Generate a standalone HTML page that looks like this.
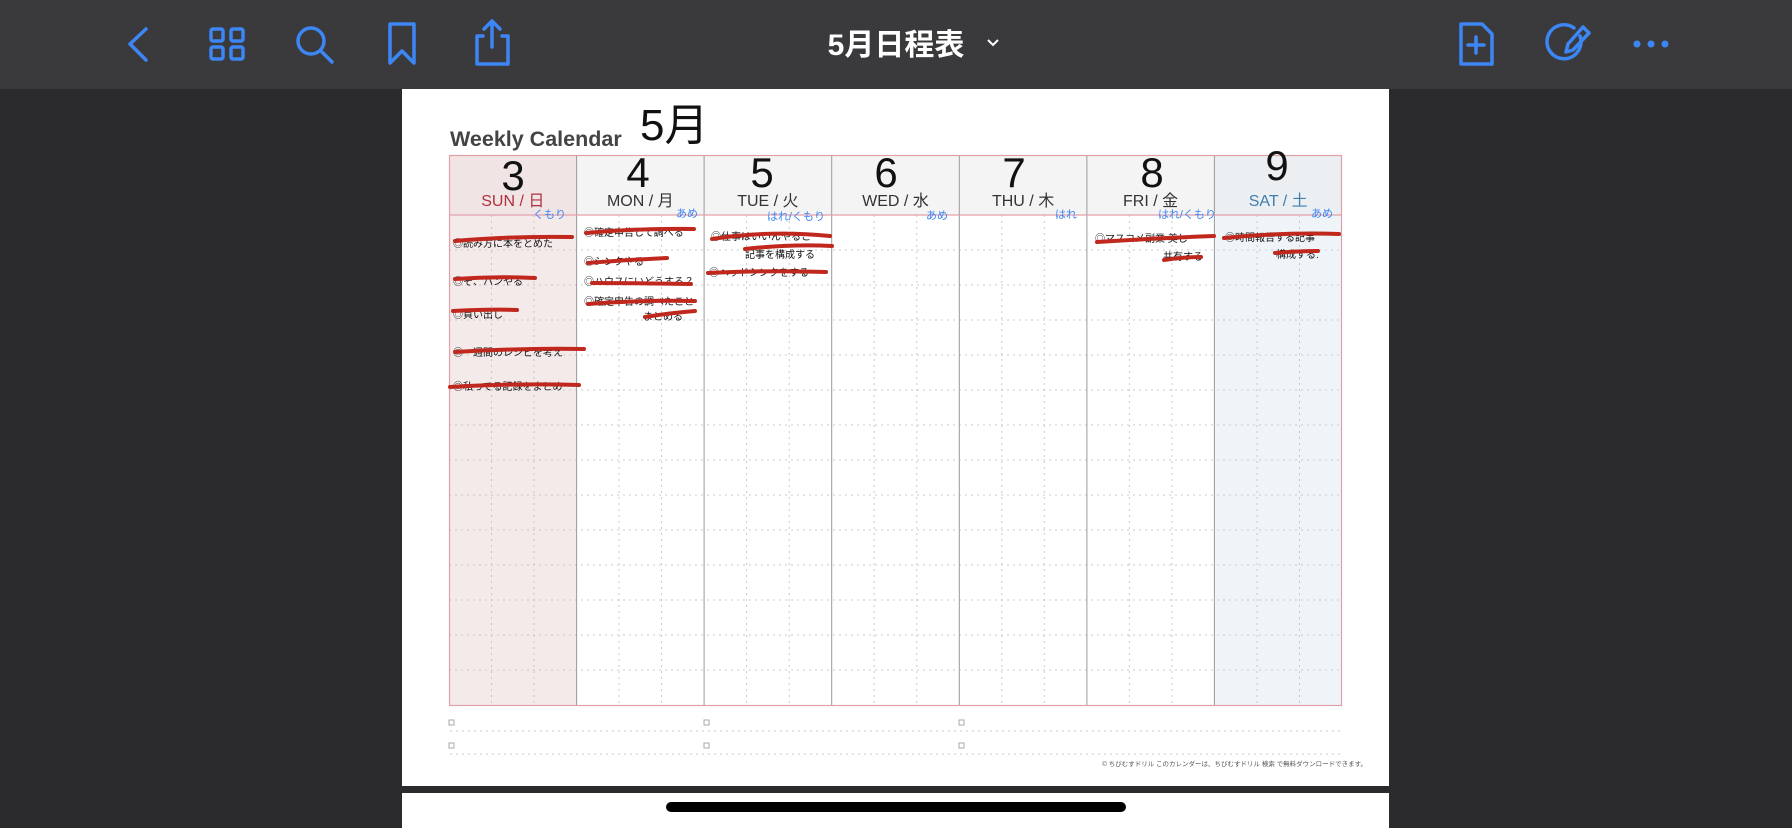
<!DOCTYPE html>
<html><head><meta charset="utf-8"><style>
html,body{margin:0;padding:0;width:1792px;height:828px;overflow:hidden;background:#2b2b2d;font-family:"Liberation Sans","Noto Sans CJK JP",sans-serif}
svg{position:absolute;left:0;top:0}
</style></head><body>
<svg width="1792" height="828" viewBox="0 0 1792 828" xmlns="http://www.w3.org/2000/svg" font-family="Liberation Sans, Noto Sans CJK JP, sans-serif">
<rect x="0" y="0" width="1792" height="89" fill="#3a3a3c"/>
<g stroke="#3d86f5" stroke-width="3.5" fill="none" stroke-linecap="round" stroke-linejoin="round">
<path d="M146 29 L130 44 L146 60"/>
<rect x="211" y="29" width="12" height="12" rx="2"/><rect x="231" y="29" width="12" height="12" rx="2"/>
<rect x="211" y="47" width="12" height="12" rx="2"/><rect x="231" y="47" width="12" height="12" rx="2"/>
<circle cx="311" cy="41" r="13"/><path d="M321 51 L332 62"/>
<path d="M390 24 L414 24 L414 63 L402 51 L390 63 Z"/>
<path d="M483 36 L477 36 L477 64 L508 64 L508 36 L502 36"/><path d="M492 47 L492 21 M484 29 L492 21 L500 29"/>
<path d="M1461 24 L1482 24 L1492 34 L1492 64 L1461 64 Z"/><path d="M1476 37 L1476 53 M1468 45 L1484 45"/>
<path d="M1574 28 A17 17 0 1 0 1580 36"/><path d="M1566 52 L1568 44 L1583 27 L1589 33 L1573 50 Z"/>
</g>
<g fill="#3d86f5"><circle cx="1637" cy="44" r="3.5"/><circle cx="1651" cy="44" r="3.5"/><circle cx="1665" cy="44" r="3.5"/></g>
<text x="896" y="55" text-anchor="middle" fill="#fff" font-size="30" font-weight="bold">5月日程表</text>
<path d="M988 40 L993 45 L998 40" stroke="#fff" stroke-width="2" fill="none"/>

<rect x="402" y="89" width="987" height="697" fill="#fff"/>
<rect x="402" y="793" width="987" height="35" fill="#fff"/>
<rect x="666" y="802" width="460" height="10" rx="5" fill="#000"/>

<text x="450" y="146" font-size="21.5" font-weight="bold" fill="#444">Weekly Calendar</text>
<text x="640" y="140" font-size="44" fill="#111" font-family="Liberation Sans, WenQuanYi Zen Hei, sans-serif">5月</text>

<rect x="449" y="155" width="893" height="60" fill="#f4f4f4"/>
<rect x="449" y="155" width="127.6" height="551" fill="#f5eaea"/>
<rect x="449" y="155" width="127.6" height="60" fill="#f1e4e4"/>
<rect x="1214.4" y="155" width="127.6" height="551" fill="#eff4f8"/>
<rect x="1214.4" y="155" width="127.6" height="60" fill="#eceff1"/>

<g stroke="#c8c8c8" stroke-width="1" stroke-dasharray="2 4">
<line x1="449" x2="1342" y1="250" y2="250"/><line x1="449" x2="1342" y1="285" y2="285"/><line x1="449" x2="1342" y1="320" y2="320"/><line x1="449" x2="1342" y1="355" y2="355"/><line x1="449" x2="1342" y1="390" y2="390"/><line x1="449" x2="1342" y1="425" y2="425"/><line x1="449" x2="1342" y1="460" y2="460"/><line x1="449" x2="1342" y1="495" y2="495"/><line x1="449" x2="1342" y1="530" y2="530"/><line x1="449" x2="1342" y1="565" y2="565"/><line x1="449" x2="1342" y1="600" y2="600"/><line x1="449" x2="1342" y1="635" y2="635"/><line x1="449" x2="1342" y1="670" y2="670"/>
<line y1="215" y2="706" x1="491.5" x2="491.5"/><line y1="215" y2="706" x1="534" x2="534"/>
<line y1="215" y2="706" x1="619" x2="619"/><line y1="215" y2="706" x1="661.6" x2="661.6"/>
<line y1="215" y2="706" x1="746.6" x2="746.6"/><line y1="215" y2="706" x1="789.2" x2="789.2"/>
<line y1="215" y2="706" x1="874.2" x2="874.2"/><line y1="215" y2="706" x1="916.8" x2="916.8"/>
<line y1="215" y2="706" x1="1001.8" x2="1001.8"/><line y1="215" y2="706" x1="1044.3" x2="1044.3"/>
<line y1="215" y2="706" x1="1129.4" x2="1129.4"/><line y1="215" y2="706" x1="1171.9" x2="1171.9"/>
<line y1="215" y2="706" x1="1257" x2="1257"/><line y1="215" y2="706" x1="1299.5" x2="1299.5"/>
<line x1="450" x2="1342" y1="731" y2="731"/><line x1="450" x2="1342" y1="754" y2="754"/>
</g>
<g stroke="#9a9a9a" stroke-width="1">
<line x1="576.6" x2="576.6" y1="155" y2="706"/><line x1="704.1" x2="704.1" y1="155" y2="706"/><line x1="831.7" x2="831.7" y1="155" y2="706"/><line x1="959.3" x2="959.3" y1="155" y2="706"/><line x1="1086.9" x2="1086.9" y1="155" y2="706"/><line x1="1214.4" x2="1214.4" y1="155" y2="706"/>
</g>
<rect x="449.5" y="155.5" width="892" height="550" fill="none" stroke="#e0a0aa" stroke-width="1.2"/>
<line x1="449" x2="1342" y1="215" y2="215" stroke="#e0a0aa" stroke-width="1.2"/>

<g font-size="16" text-anchor="middle" fill="#333">
<text x="512.8" y="206" fill="#b03040">SUN / 日</text>
<text x="640.3" y="206">MON / 月</text>
<text x="767.9" y="206">TUE / 火</text>
<text x="895.5" y="206">WED / 水</text>
<text x="1023.1" y="206">THU / 木</text>
<text x="1150.6" y="206">FRI / 金</text>
<text x="1278.2" y="206" fill="#3d7fb0">SAT / 土</text>
</g>
<g font-size="42" text-anchor="middle" fill="#111">
<text x="513" y="190">3</text><text x="638" y="187">4</text><text x="762" y="187">5</text><text x="886" y="187">6</text><text x="1014" y="187">7</text><text x="1152" y="187">8</text><text x="1277" y="180">9</text>
</g>
<g font-size="11" fill="#3d86f5" text-anchor="end">
<text x="566" y="218">くもり</text><text x="698" y="217">あめ</text><text x="825" y="220">はれ/くもり</text><text x="948" y="219">あめ</text><text x="1077" y="218">はれ</text><text x="1216" y="218">はれ/くもり</text><text x="1333" y="217">あめ</text>
</g>
<g font-size="10" fill="#111">
<text x="453" y="247">◎読み方に本をとめた</text><text x="453" y="285">◎そ、ハンやる</text><text x="453" y="318">◎買い出し</text><text x="453" y="356">◎一週間のレシピを考え</text><text x="453" y="390">◎私ってる記録をまとめ</text>
<text x="584" y="236">◎確定申告して調べる</text><text x="584" y="265">◎シンクやる</text><text x="584" y="285">◎ハウスにいどうする？</text><text x="584" y="305">◎確定申告の調べたこと</text><text x="643" y="320">まとめる</text>
<text x="711" y="240">◎仕事はいいんやるこ</text><text x="745" y="258">記事を構成する</text><text x="709" y="276">◎ヘッドシンクをする</text>
<text x="1095" y="242">◎マスコメ副業 美し</text><text x="1163" y="260">共有する</text>
<text x="1225" y="241">◎時間報告する記事</text><text x="1276" y="258">構成する.</text>
</g>
<g stroke="#c0281e" stroke-width="4" fill="none" stroke-linecap="round">
<path d="M455 241 Q510 236 572 237"/><path d="M455 279 Q495 276 535 278"/><path d="M453 311 Q490 309 517 310"/><path d="M455 352 Q520 348 584 349"/><path d="M450 387 Q520 383 579 385"/>
<path d="M586 233 Q640 228 694 229"/><path d="M588 263 Q625 260 667 258"/><path d="M592 283 Q640 283 691 284"/><path d="M588 304 Q640 300 695 301"/><path d="M645 317 Q670 313 695 311"/>
<path d="M712 239 Q770 230 830 236"/><path d="M745 249 Q790 244 832 246"/><path d="M708 273 Q770 270 826 272"/>
<path d="M1097 242 Q1160 238 1214 236"/><path d="M1164 260 Q1184 257 1201 257"/>
<path d="M1224 238 Q1285 232 1339 234"/><path d="M1275 253 Q1298 251 1318 251"/>
</g>
<g fill="none" stroke="#aaa" stroke-width="1">
<rect x="449" y="720" width="5" height="5"/><rect x="704" y="720" width="5" height="5"/><rect x="959" y="720" width="5" height="5"/>
<rect x="449" y="743" width="5" height="5"/><rect x="704" y="743" width="5" height="5"/><rect x="959" y="743" width="5" height="5"/>
</g>
<text x="1367" y="766" text-anchor="end" font-size="6.5" fill="#555">© ちびむすドリル  このカレンダーは、ちびむすドリル 検索 で無料ダウンロードできます。</text>
</svg>
</body></html>
